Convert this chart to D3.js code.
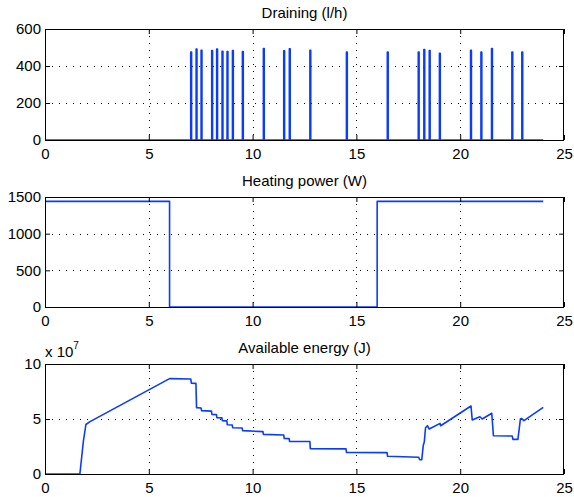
<!DOCTYPE html>
<html lang="en">
<head>
<meta charset="utf-8" />
<title>Water heater</title>
<script src="https://cdn.jsdelivr.net/npm/d3@7"></script>
<style>
  body { margin: 0; background: #fff; }
  svg { font-family: "Liberation Sans", Arial, Helvetica, sans-serif; }
  .tick text { font-size: 15px; fill: #000; }
  .grid line { stroke: #000; stroke-dasharray: 1,6; stroke-width: 1; }
  .title { font-size: 15px; fill: #000; }
</style>
</head>
<body>
<div id="chart"></div>
<script>
var width = 574, height = 497;

// draining events: start time (h) and flow (l/h)
var drainTimes = [7.02, 7.28, 7.52, 8.03, 8.27, 8.53, 8.77, 9.03, 9.51, 10.52, 11.5, 11.77,
                  12.76, 14.52, 16.49, 17.98, 18.25, 18.51, 19.0, 20.5, 21.0, 21.51, 22.49, 22.97];
var drainFlows = [476, 491, 485, 484, 491, 480, 478, 484, 478, 495, 482, 493,
                  485, 475, 475, 476, 489, 484, 469, 485, 475, 495, 475, 475];
var drainEnd = 24;

// heating power (W)
var heatTimes = [0, 6, 6, 16, 16, 24];
var heatPower = [1440, 1440, 0, 0, 1440, 1440];

// available energy (x 10^7 J)
var energyTimes = [0, 1.68, 1.85, 1.97, 2.17, 6.0, 7.02, 7.05, 7.27, 7.3, 7.52, 7.54, 8.02, 8.04,
                   8.26, 8.28, 8.52, 8.54, 8.76, 8.78, 9.02, 9.04, 9.5, 9.52, 10.5, 10.52, 11.5, 11.52,
                   11.76, 11.78, 12.76, 12.78, 14.5, 14.52, 16.48, 16.5, 18.0, 18.05, 18.15, 18.22, 18.27,
                   18.33, 18.42, 18.51, 19.03, 19.06, 20.52, 20.58, 20.95, 21.06, 21.52, 21.6, 22.51,
                   22.54, 22.78, 22.9, 22.95, 23.07, 24.0];
var energyValues = [0, 0, 3.0, 4.5, 4.76, 8.67, 8.64, 8.26, 8.24, 6.03, 6.0, 5.76, 5.72, 5.42,
                    5.40, 5.12, 5.10, 4.85, 4.83, 4.48, 4.46, 4.21, 4.18, 3.94, 3.85, 3.6, 3.55, 3.24,
                    3.22, 2.97, 2.95, 2.30, 2.28, 1.97, 1.94, 1.61, 1.52, 1.30, 1.30, 2.6, 2.9,
                    4.2, 4.39, 4.09, 4.6, 4.39, 6.18, 4.91, 5.21, 5.0, 5.52, 3.48, 3.45,
                    3.15, 3.15, 5.0, 5.05, 4.85, 6.06];

var xTicks = [0, 5, 10, 15, 20, 25];

var svg = d3.select("#chart").append("svg")
    .attr("width", width)
    .attr("height", height);

var x = d3.scaleLinear().domain([0, 25]).range([45, 564]);
var fmt = d3.format("d");

function panel(opts) {
  var y = d3.scaleLinear().domain(opts.domain).range([opts.bottom, opts.top]);
  var g = svg.append("g");

  // grid
  var grid = g.append("g").attr("class", "grid");
  grid.selectAll(".gx").data(xTicks.slice(1, -1)).enter().append("line")
      .attr("x1", function(d) { return Math.round(x(d)) + 0.5; })
      .attr("x2", function(d) { return Math.round(x(d)) + 0.5; })
      .attr("y1", opts.top).attr("y2", opts.bottom);
  grid.selectAll(".gy").data(opts.ticks.slice(1, -1)).enter().append("line")
      .attr("y1", function(d) { return Math.round(y(d)) + 0.5; })
      .attr("y2", function(d) { return Math.round(y(d)) + 0.5; })
      .attr("x1", x.range()[0]).attr("x2", x.range()[1]);

  // data line
  var line = d3.line()
      .x(function(d) { return x(d[0]); })
      .y(function(d) { return y(d[1]); });
  g.append("path")
      .datum(opts.points)
      .attr("fill", "none")
      .attr("stroke", "#0a3cff")
      .attr("stroke-width", 1.6)
      .attr("stroke-linejoin", "round")
      .attr("d", line);

  // axes, MATLAB style ticks inward on all four sides
  var bottom = d3.axisBottom(x).tickValues(xTicks).tickFormat(fmt).tickSizeInner(-5).tickSizeOuter(0).tickPadding(8);
  var top = d3.axisTop(x).tickValues(xTicks).tickSizeInner(-5).tickSizeOuter(0).tickFormat("");
  var left = d3.axisLeft(y).tickValues(opts.ticks).tickFormat(fmt).tickSizeInner(-5).tickSizeOuter(0).tickPadding(4);
  var right = d3.axisRight(y).tickValues(opts.ticks).tickSizeInner(-5).tickSizeOuter(0).tickFormat("");

  [[bottom, "translate(0," + opts.bottom + ")"], [top, "translate(0," + opts.top + ")"],
   [left, "translate(45,0)"], [right, "translate(564,0)"]].forEach(function(a) {
    var ax = g.append("g").attr("transform", a[1]).call(a[0]);
    ax.select(".domain").remove();
    ax.selectAll("line").attr("stroke", "#000");
    ax.selectAll("text").attr("font-family", null).attr("font-size", null);
  });

  g.append("rect")
      .attr("x", 45.5).attr("y", opts.top + 0.5)
      .attr("width", 564 - 45 - 1).attr("height", opts.bottom - opts.top)
      .attr("fill", "none").attr("stroke", "#000").attr("stroke-width", 1);

  g.append("text").attr("class", "title")
      .attr("x", (45 + 564) / 2).attr("y", opts.top - 11)
      .attr("text-anchor", "middle")
      .text(opts.title);

  return g;
}

// draining pulses
var drainPoints = [[0, 0]];
drainTimes.forEach(function(t, i) {
  drainPoints.push([t, 0], [t, drainFlows[i]], [t + 0.04, drainFlows[i]], [t + 0.04, 0]);
});
drainPoints.push([drainEnd, 0]);

panel({
  title: "Draining (l/h)",
  top: 29, bottom: 140,
  domain: [0, 600], ticks: [0, 200, 400, 600],
  points: drainPoints
});

panel({
  title: "Heating power (W)",
  top: 197, bottom: 307,
  domain: [0, 1500], ticks: [0, 500, 1000, 1500],
  points: heatTimes.map(function(t, i) { return [t, heatPower[i]]; })
});

var g3 = panel({
  title: "Available energy (J)",
  top: 364, bottom: 474,
  domain: [0, 10], ticks: [0, 5, 10],
  points: energyTimes.map(function(t, i) { return [t, energyValues[i]]; })
});

var mult = g3.append("text").attr("x", 45).attr("y", 357).attr("font-size", 15);
mult.append("tspan").text("x 10");
mult.append("tspan").attr("font-size", 10).attr("dy", -8).text("7");
</script>
</body>
</html>
